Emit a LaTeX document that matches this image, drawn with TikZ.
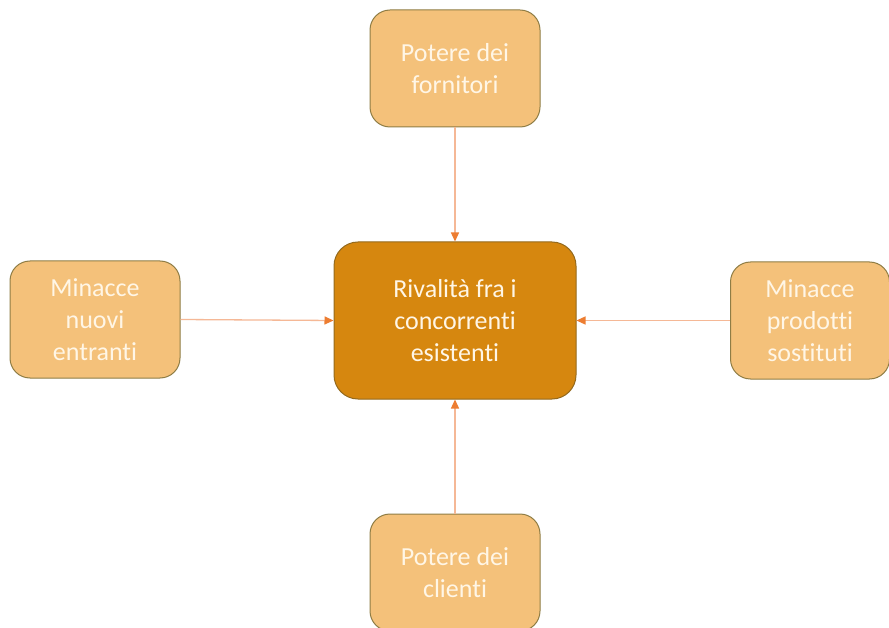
\documentclass[tikz,border=0pt]{standalone}
\usepackage{fontspec}
\setmainfont[Ligatures={NoCommon}]{Carlito}
\usetikzlibrary{arrows.meta}
\definecolor{lightbox}{HTML}{F4C17A}
\definecolor{lightedge}{HTML}{8F7D45}
\definecolor{centerbox}{HTML}{D6870F}
\definecolor{centeredge}{HTML}{946A1E}
\definecolor{arrowline}{HTML}{F5B896}
\definecolor{arrowhead}{HTML}{ED7D31}
\definecolor{boxtext}{HTML}{FFF6E6}
\begin{document}
\begin{tikzpicture}[x=1pt,y=-1pt,
  outer box/.style={draw=lightedge, line width=1pt, fill=lightbox, rounded corners=20pt,
    minimum width=170pt, minimum height=117pt, text=boxtext, align=center,
    font=\fontsize{26}{32}\selectfont, inner sep=0pt},
  main box/.style={draw=centeredge, line width=1pt, fill=centerbox, rounded corners=24pt,
    minimum width=242pt, minimum height=157pt, text=boxtext, align=center,
    font=\fontsize{26}{32}\selectfont, inner sep=0pt},
  force/.style={draw=arrowline, line width=1.3pt,
    -{Triangle[length=9pt,width=8pt,color=arrowhead]}}]
\useasboundingbox (0,0) rectangle (889,628);
\fill[white] (0,0) rectangle (889,628);
\node[main box] (rival) at (455,320.5) {Rivalità fra i\\concorrenti\\esistenti};
\node[outer box] (fornitori) at (455,68.5) {Potere dei\\fornitori};
\node[outer box] (entranti) at (95,319.5) {Minacce\\nuovi\\entranti};
\node[outer box, minimum width=159pt] (sostituti) at (810,320.5) {Minacce\\prodotti\\sostituti};
\node[outer box] (clienti) at (455,572.5) {Potere dei\\clienti};
\draw[force] (fornitori) -- (rival);
\draw[force] (entranti.east) -- (rival.west);
\draw[force] (sostituti.west) -- (rival.east);
\draw[force] (clienti) -- (rival);
\end{tikzpicture}
\end{document}
